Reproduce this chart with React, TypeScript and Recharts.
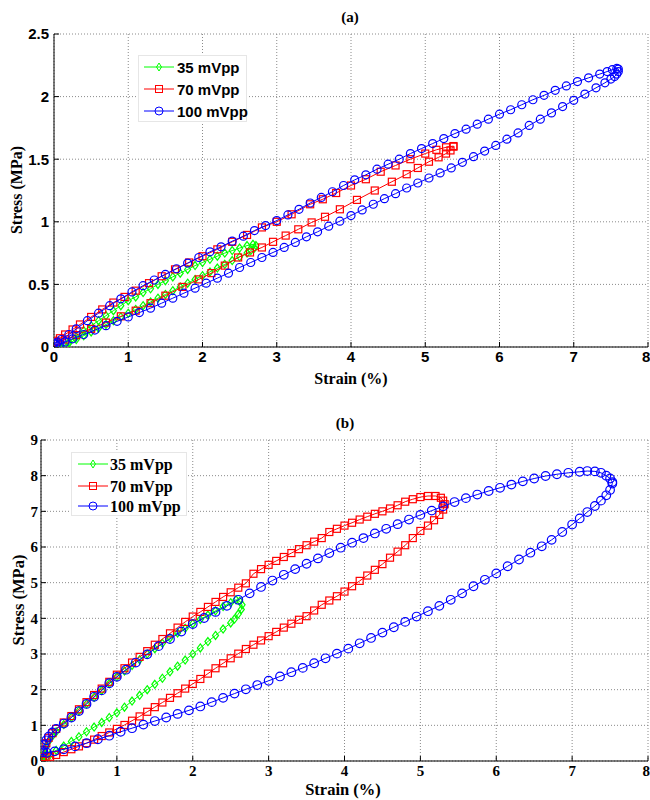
import React from 'react';
import { ScatterChart, Scatter, XAxis, YAxis, CartesianGrid, Label } from 'recharts';

// ---------- tick labels ----------
const strainTicks = [0, 1, 2, 3, 4, 5, 6, 7, 8];
const stressTicksA = [0, 0.5, 1, 1.5, 2, 2.5];
const stressTicksB = [0, 1, 2, 3, 4, 5, 6, 7, 8, 9];
const seriesNames = ['35 mVpp', '70 mVpp', '100 mVpp'];

// ---------- panel (a) : [strain %, stress MPa] ----------
const greenA_up: [number, number][] = [
  [0.05, -0.02], [0.1, -0.01], [0.2, 0.04], [0.3, 0.08], [0.4, 0.13], [0.5, 0.17], [0.6, 0.21], [0.7, 0.25],
  [0.8, 0.29], [0.9, 0.33], [1.0, 0.37], [1.1, 0.4], [1.2, 0.435], [1.3, 0.465], [1.4, 0.5], [1.5, 0.53],
  [1.6, 0.56], [1.7, 0.59], [1.8, 0.62], [1.9, 0.65], [2.0, 0.675], [2.1, 0.7], [2.2, 0.725], [2.3, 0.75],
  [2.4, 0.77], [2.5, 0.79], [2.6, 0.81], [2.68, 0.82], [2.72, 0.81],
];
const greenA_down: [number, number][] = [
  [2.7, 0.79], [2.65, 0.77], [2.6, 0.75], [2.5, 0.72], [2.4, 0.69], [2.3, 0.66], [2.2, 0.63], [2.1, 0.6],
  [2.0, 0.57], [1.9, 0.54], [1.8, 0.51], [1.7, 0.48], [1.6, 0.45], [1.5, 0.42], [1.4, 0.39], [1.3, 0.36],
  [1.2, 0.33], [1.1, 0.3], [1.0, 0.27], [0.9, 0.24], [0.8, 0.21], [0.7, 0.18], [0.6, 0.15], [0.5, 0.12],
  [0.4, 0.09], [0.3, 0.06], [0.2, 0.03], [0.1, 0.0], [0.05, -0.02],
];
const redA_up: [number, number][] = [
  [0.02, 0.05], [0.08, 0.07], [0.15, 0.1], [0.25, 0.14], [0.35, 0.18], [0.5, 0.24], [0.65, 0.3], [0.8, 0.355],
  [0.95, 0.4], [1.1, 0.45], [1.28, 0.51], [1.45, 0.565], [1.63, 0.62], [1.82, 0.675], [2.0, 0.725], [2.2, 0.78],
  [2.4, 0.84], [2.6, 0.895], [2.8, 0.955], [3.0, 1.0], [3.2, 1.06], [3.45, 1.14], [3.62, 1.18], [3.8, 1.23],
  [4.0, 1.29], [4.2, 1.34], [4.4, 1.4], [4.6, 1.45], [4.8, 1.5], [5.0, 1.545], [5.15, 1.575], [5.28, 1.595],
  [5.38, 1.605],
];
const redA_down: [number, number][] = [
  [5.38, 1.6], [5.34, 1.57], [5.28, 1.545], [5.18, 1.515], [5.05, 1.48], [4.9, 1.43], [4.75, 1.38], [4.55, 1.32],
  [4.32, 1.25], [4.08, 1.175], [3.85, 1.1], [3.65, 1.04], [3.47, 0.995], [3.29, 0.94], [3.12, 0.89], [2.95, 0.84],
  [2.8, 0.795], [2.64, 0.755], [2.48, 0.715], [2.3, 0.65], [2.12, 0.59], [1.95, 0.54], [1.73, 0.48], [1.5, 0.41],
  [1.3, 0.35], [1.1, 0.29], [0.9, 0.245], [0.7, 0.195], [0.5, 0.145], [0.3, 0.095], [0.15, 0.06], [0.03, 0.04],
];
const blueA_up: [number, number][] = [
  [0.0, 0.03], [0.05, 0.04], [0.1, 0.06], [0.2, 0.1], [0.3, 0.145], [0.45, 0.21], [0.6, 0.27], [0.75, 0.33],
  [0.9, 0.385], [1.05, 0.44], [1.2, 0.49], [1.35, 0.535], [1.5, 0.58], [1.65, 0.625], [1.8, 0.67], [1.95, 0.715],
  [2.1, 0.76], [2.25, 0.8], [2.4, 0.845], [2.55, 0.885], [2.7, 0.93], [2.85, 0.97], [3.0, 1.01], [3.15, 1.055],
  [3.3, 1.1], [3.45, 1.15], [3.6, 1.195], [3.75, 1.24], [3.9, 1.29], [4.05, 1.335], [4.2, 1.375], [4.35, 1.42],
  [4.5, 1.46], [4.65, 1.5], [4.8, 1.545], [4.95, 1.585], [5.1, 1.625], [5.25, 1.665], [5.4, 1.705], [5.55, 1.74],
  [5.7, 1.78], [5.85, 1.82], [6.0, 1.86], [6.15, 1.895], [6.3, 1.935], [6.45, 1.975], [6.6, 2.01], [6.75, 2.05],
  [6.9, 2.085], [7.05, 2.12], [7.2, 2.15], [7.35, 2.18], [7.45, 2.2], [7.52, 2.215], [7.58, 2.225], [7.6, 2.22],
];
const blueA_down: [number, number][] = [
  [7.6, 2.2], [7.58, 2.18], [7.55, 2.16], [7.5, 2.14], [7.42, 2.11], [7.3, 2.07], [7.15, 2.02], [7.0, 1.97],
  [6.85, 1.92], [6.7, 1.87], [6.55, 1.82], [6.4, 1.77], [6.25, 1.71], [6.1, 1.66], [5.95, 1.61], [5.8, 1.565],
  [5.65, 1.52], [5.5, 1.475], [5.35, 1.43], [5.2, 1.39], [5.05, 1.35], [4.9, 1.31], [4.75, 1.27], [4.6, 1.225],
  [4.45, 1.185], [4.3, 1.14], [4.15, 1.095], [4.0, 1.05], [3.85, 1.005], [3.7, 0.965], [3.55, 0.92], [3.4, 0.88],
  [3.25, 0.835], [3.1, 0.795], [2.95, 0.755], [2.8, 0.715], [2.65, 0.675], [2.5, 0.635], [2.35, 0.59], [2.2, 0.55],
  [2.05, 0.51], [1.9, 0.47], [1.75, 0.43], [1.6, 0.39], [1.45, 0.35], [1.3, 0.31], [1.15, 0.275], [1.0, 0.24],
  [0.85, 0.205], [0.7, 0.17], [0.55, 0.135], [0.4, 0.1], [0.25, 0.065], [0.15, 0.04], [0.08, 0.025], [0.03, 0.02],
];

// ---------- panel (b) : [strain %, stress MPa] ----------
const greenB_up: [number, number][] = [
  [0.02, 0.0], [0.04, 0.2], [0.07, 0.4], [0.1, 0.55], [0.15, 0.7], [0.2, 0.82], [0.3, 1.02], [0.4, 1.22],
  [0.5, 1.41], [0.6, 1.6], [0.7, 1.79], [0.8, 1.98], [0.9, 2.17], [1.0, 2.36], [1.1, 2.52], [1.2, 2.68],
  [1.3, 2.84], [1.4, 3.0], [1.5, 3.15], [1.6, 3.3], [1.7, 3.45], [1.8, 3.59], [1.9, 3.72], [2.0, 3.85],
  [2.1, 3.97], [2.2, 4.09], [2.3, 4.21], [2.4, 4.33], [2.5, 4.44], [2.57, 4.52], [2.62, 4.48], [2.65, 4.38],
];
const greenB_down: [number, number][] = [
  [2.64, 4.25], [2.6, 4.12], [2.55, 3.98], [2.5, 3.87], [2.4, 3.7], [2.3, 3.52], [2.2, 3.35], [2.1, 3.17],
  [2.0, 3.0], [1.9, 2.83], [1.8, 2.66], [1.7, 2.5], [1.6, 2.32], [1.5, 2.15], [1.4, 2.0], [1.3, 1.84],
  [1.2, 1.68], [1.1, 1.51], [1.0, 1.35], [0.9, 1.22], [0.8, 1.08], [0.7, 0.95], [0.6, 0.82], [0.5, 0.68],
  [0.4, 0.55], [0.3, 0.42], [0.2, 0.3], [0.12, 0.18], [0.06, 0.07], [0.03, 0.0],
];
const redB_up: [number, number][] = [
  [0.02, 0.1], [0.04, 0.3], [0.07, 0.5], [0.1, 0.65], [0.15, 0.78], [0.2, 0.9], [0.3, 1.08], [0.4, 1.26],
  [0.5, 1.45], [0.6, 1.65], [0.7, 1.85], [0.8, 2.03], [0.9, 2.22], [1.0, 2.42], [1.1, 2.6], [1.2, 2.76],
  [1.3, 2.92], [1.4, 3.08], [1.5, 3.26], [1.6, 3.42], [1.7, 3.58], [1.8, 3.74], [1.9, 3.9], [2.0, 4.05],
  [2.1, 4.18], [2.2, 4.32], [2.3, 4.46], [2.4, 4.6], [2.5, 4.73], [2.6, 4.86], [2.7, 4.98], [2.8, 5.25],
  [2.9, 5.38], [3.0, 5.5], [3.1, 5.61], [3.2, 5.72], [3.3, 5.83], [3.4, 5.94], [3.5, 6.05], [3.6, 6.15],
  [3.7, 6.25], [3.8, 6.42], [3.9, 6.51], [4.0, 6.6], [4.1, 6.68], [4.2, 6.77], [4.3, 6.85], [4.4, 6.93],
  [4.5, 7.0], [4.6, 7.08], [4.7, 7.17], [4.8, 7.27], [4.9, 7.34], [5.0, 7.4], [5.1, 7.43], [5.2, 7.43],
  [5.27, 7.38], [5.3, 7.3],
];
const redB_down: [number, number][] = [
  [5.32, 7.2], [5.3, 7.05], [5.25, 6.9], [5.18, 6.75], [5.1, 6.6], [5.0, 6.45], [4.9, 6.25], [4.8, 6.05],
  [4.7, 5.87], [4.6, 5.7], [4.5, 5.52], [4.4, 5.36], [4.3, 5.2], [4.2, 5.05], [4.1, 4.9], [4.0, 4.75],
  [3.9, 4.62], [3.8, 4.5], [3.7, 4.38], [3.6, 4.22], [3.5, 4.06], [3.4, 3.96], [3.3, 3.85], [3.2, 3.74],
  [3.1, 3.62], [3.0, 3.5], [2.9, 3.38], [2.8, 3.26], [2.7, 3.14], [2.6, 3.01], [2.5, 2.88], [2.4, 2.74],
  [2.3, 2.6], [2.2, 2.45], [2.1, 2.3], [2.0, 2.16], [1.9, 2.03], [1.8, 1.9], [1.7, 1.77], [1.6, 1.64],
  [1.5, 1.51], [1.4, 1.38], [1.3, 1.25], [1.2, 1.13], [1.1, 1.01], [1.0, 0.9], [0.9, 0.8], [0.8, 0.7],
  [0.7, 0.6], [0.6, 0.5], [0.5, 0.41], [0.4, 0.33], [0.3, 0.25], [0.2, 0.17], [0.12, 0.12], [0.06, 0.1],
  [0.02, 0.1],
];
const blueB_up: [number, number][] = [
  [0.02, 0.3], [0.04, 0.45], [0.07, 0.58], [0.1, 0.68], [0.15, 0.8], [0.2, 0.9], [0.3, 1.05], [0.4, 1.22],
  [0.5, 1.4], [0.6, 1.6], [0.7, 1.8], [0.8, 1.98], [0.9, 2.18], [1.0, 2.36], [1.12, 2.56], [1.25, 2.76],
  [1.4, 2.99], [1.55, 3.22], [1.7, 3.42], [1.85, 3.63], [2.0, 3.84], [2.15, 4.01], [2.3, 4.18], [2.45, 4.35],
  [2.6, 4.52], [2.75, 4.7], [2.9, 4.88], [3.05, 5.06], [3.2, 5.22], [3.35, 5.38], [3.5, 5.53], [3.65, 5.68],
  [3.8, 5.83], [3.95, 5.98], [4.1, 6.12], [4.25, 6.25], [4.4, 6.38], [4.55, 6.51], [4.7, 6.64], [4.85, 6.77],
  [5.0, 6.9], [5.15, 7.02], [5.3, 7.14], [5.45, 7.26], [5.6, 7.37], [5.75, 7.47], [5.9, 7.57], [6.05, 7.66],
  [6.2, 7.75], [6.35, 7.84], [6.5, 7.92], [6.65, 7.99], [6.8, 8.04], [6.95, 8.08], [7.1, 8.11], [7.2, 8.13],
  [7.3, 8.12], [7.38, 8.08], [7.45, 8.0], [7.5, 7.92], [7.53, 7.82],
];
const blueB_down: [number, number][] = [
  [7.53, 7.78], [7.5, 7.6], [7.45, 7.45], [7.38, 7.3], [7.3, 7.15], [7.2, 6.98], [7.1, 6.8], [7.0, 6.63],
  [6.87, 6.42], [6.73, 6.2], [6.6, 6.02], [6.45, 5.84], [6.3, 5.65], [6.15, 5.46], [6.0, 5.26], [5.85, 5.08],
  [5.7, 4.9], [5.55, 4.7], [5.4, 4.52], [5.25, 4.35], [5.1, 4.2], [4.95, 4.05], [4.8, 3.9], [4.65, 3.75],
  [4.5, 3.6], [4.35, 3.45], [4.2, 3.3], [4.05, 3.15], [3.9, 3.01], [3.75, 2.88], [3.6, 2.74], [3.45, 2.61],
  [3.3, 2.49], [3.15, 2.37], [3.0, 2.25], [2.85, 2.13], [2.7, 2.01], [2.55, 1.89], [2.4, 1.77], [2.25, 1.65],
  [2.1, 1.53], [1.95, 1.42], [1.8, 1.32], [1.65, 1.22], [1.5, 1.12], [1.35, 1.02], [1.2, 0.92], [1.05, 0.82],
  [0.9, 0.71], [0.75, 0.61], [0.6, 0.5], [0.45, 0.41], [0.3, 0.33], [0.18, 0.27], [0.08, 0.23], [0.03, 0.25],
];

const toPts = (...branches: [number, number][][]) =>
  branches.flat().map(([x, y]) => ({ x, y }));

const GREEN = '#00ff00';
const RED = '#ff0000';
const BLUE = '#0000ff';
const MW = 1.2;

const Diamond = (color: string, w: number, h: number) => (p: any) =>
  p.cx == null ? <g /> : (
    <path
      d={`M${p.cx},${p.cy - h}L${p.cx + w},${p.cy}L${p.cx},${p.cy + h}L${p.cx - w},${p.cy}Z`}
      fill="none"
      stroke={color}
      strokeWidth={MW}
    />
  );
const Square = (color: string, s: number) => (p: any) =>
  p.cx == null ? <g /> : (
    <rect x={p.cx - s} y={p.cy - s} width={2 * s} height={2 * s} fill="none" stroke={color} strokeWidth={MW} />
  );
const Circle = (color: string, r: number) => (p: any) =>
  p.cx == null ? <g /> : <circle cx={p.cx} cy={p.cy} r={r} fill="none" stroke={color} strokeWidth={MW} />;

type PanelProps = {
  top: number;
  yTicks: number[];
  yMax: number;
  leftW: number;
  margin: { top: number; right: number; bottom: number; left: number };
  series: { data: { x: number; y: number }[]; color: string; shape: any }[];
  tickFont: string;
  tickSize: number;
  yTickMargin: number;
  xTickMargin: number;
  yLabelX: number;
  yLabelY: number;
  xLabelX: number;
  xLabelY: number;
  labelSize: number;
};

const Panel = (pp: PanelProps) => {
  const tickStyle = { fontFamily: pp.tickFont, fontWeight: 700, fontSize: pp.tickSize, fill: '#000' };
  const labelStyle = { fontFamily: '"Liberation Serif", "Times New Roman", serif', fontWeight: 700, fontSize: pp.labelSize, fill: '#000' };
  return (
    <div style={{ position: 'absolute', left: 0, top: pp.top }}>
      <ScatterChart width={650} height={400} margin={pp.margin}>
        <CartesianGrid stroke="#8a8a8a" strokeDasharray="1 2" />
        <XAxis
          type="number"
          dataKey="x"
          domain={[0, 8]}
          ticks={strainTicks}
          allowDataOverflow
          height={30}
          tickSize={-5}
          tickMargin={pp.xTickMargin}
          tick={tickStyle}
          axisLine={{ stroke: '#000' }}
          tickLine={{ stroke: '#000' }}
        >
          <Label
            content={() => (
              <text x={pp.xLabelX} y={pp.xLabelY} textAnchor="middle" dominantBaseline="central" style={labelStyle}>
                Strain (%)
              </text>
            )}
          />
        </XAxis>
        <XAxis
          xAxisId="top"
          orientation="top"
          type="number"
          domain={[0, 8]}
          ticks={strainTicks}
          allowDataOverflow
          height={0}
          tickSize={-5}
          tick={false}
          axisLine={{ stroke: '#000' }}
          tickLine={{ stroke: '#000' }}
        />
        <YAxis
          type="number"
          dataKey="y"
          domain={[0, pp.yMax]}
          ticks={pp.yTicks}
          allowDataOverflow
          width={pp.leftW}
          tickSize={-5}
          tickMargin={pp.yTickMargin}
          tick={tickStyle}
          axisLine={{ stroke: '#000' }}
          tickLine={{ stroke: '#000' }}
        >
          <Label
            content={() => (
              <text
                x={pp.yLabelX}
                y={pp.yLabelY}
                textAnchor="middle"
                dominantBaseline="central"
                transform={`rotate(-90, ${pp.yLabelX}, ${pp.yLabelY})`}
                style={labelStyle}
              >
                Stress (MPa)
              </text>
            )}
          />
        </YAxis>
        <YAxis
          yAxisId="right"
          orientation="right"
          type="number"
          domain={[0, pp.yMax]}
          ticks={pp.yTicks}
          allowDataOverflow
          width={0}
          tickSize={-5}
          tick={false}
          axisLine={{ stroke: '#000' }}
          tickLine={{ stroke: '#000' }}
        />
        {pp.series.map((s, i) => (
          <Scatter
            key={i}
            data={s.data}
            fill="none"
            line={{ stroke: s.color, strokeWidth: 1 }}
            lineType="joint"
            shape={s.shape}
            isAnimationActive={false}
          />
        ))}
      </ScatterChart>
    </div>
  );
};

const LegendBox = ({
  left, top, width, height, rowYs, font, size, lineX1, lineX2, textX, shapes,
}: {
  left: number; top: number; width: number; height: number; rowYs: number[]; font: string; size: number;
  lineX1: number; lineX2: number; textX: number; shapes: ((x: number, y: number) => React.ReactNode)[];
}) => (
  <div
    style={{
      position: 'absolute', left, top, width, height, background: '#fff',
      border: '1px solid #e6e6e6', boxSizing: 'border-box',
    }}
  >
    <svg width={width} height={height} style={{ position: 'absolute', left: -1, top: -1, overflow: 'visible' }}>
      {seriesNames.map((name, i) => {
        const c = [GREEN, RED, BLUE][i];
        const y = rowYs[i];
        const mx = (lineX1 + lineX2) / 2;
        return (
          <g key={name}>
            <line x1={lineX1} x2={lineX2} y1={y} y2={y} stroke={c} strokeWidth={1} />
            {shapes[i](mx, y)}
            <text
              x={textX}
              y={y}
              dominantBaseline="central"
              style={{ fontFamily: font, fontWeight: 700, fontSize: size, fill: '#000' }}
            >
              {name}
            </text>
          </g>
        );
      })}
    </svg>
  </div>
);

const legendShapes = [
  (x: number, y: number) => (
    <path d={`M${x},${y - 4}L${x + 2.5},${y}L${x},${y + 4}L${x - 2.5},${y}Z`} fill="none" stroke={GREEN} />
  ),
  (x: number, y: number) => <rect x={x - 3.5} y={y - 3.5} width={7} height={7} fill="none" stroke={RED} />,
  (x: number, y: number) => <circle cx={x} cy={y} r={4} fill="none" stroke={BLUE} />,
];

const SANS = '"Liberation Sans", Arial, Helvetica, sans-serif';
const SERIF = '"Liberation Serif", "Times New Roman", serif';

export default function App() {
  const seriesA = [
    { data: toPts(greenA_up, greenA_down), color: GREEN, shape: Diamond(GREEN, 3, 4) },
    { data: toPts(redA_up, redA_down), color: RED, shape: Square(RED, 3.5) },
    { data: toPts(blueA_up, blueA_down), color: BLUE, shape: Circle(BLUE, 4) },
  ];
  const seriesB = [
    { data: toPts(greenB_up, greenB_down), color: GREEN, shape: Diamond(GREEN, 3, 4) },
    { data: toPts(redB_up, redB_down), color: RED, shape: Square(RED, 3.5) },
    { data: toPts(blueB_up, blueB_down), color: BLUE, shape: Circle(BLUE, 4.3) },
  ];
  return (
    <div style={{ position: 'absolute', left: 0, top: 0, width: 650, height: 800, background: '#fff', overflow: 'hidden' }}>
      <Panel
        top={0}
        yTicks={stressTicksA}
        yMax={2.5}
        leftW={54}
        margin={{ top: 34, right: 2, bottom: 23, left: 0 }}
        series={seriesA}
        tickFont={SANS}
        tickSize={15}
        yTickMargin={10}
        xTickMargin={9}
        yLabelX={16}
        yLabelY={190}
        xLabelX={351}
        xLabelY={378}
        labelSize={16}
      />
      <Panel
        top={400}
        yTicks={stressTicksB}
        yMax={9}
        leftW={41}
        margin={{ top: 40, right: 2, bottom: 9, left: 0 }}
        series={seriesB}
        tickFont={SERIF}
        tickSize={15}
        yTickMargin={8}
        xTickMargin={9}
        yLabelX={18}
        yLabelY={200}
        xLabelX={343}
        xLabelY={389}
        labelSize={16.5}
      />
      <div style={{ position: 'absolute', left: 330, top: 8, width: 40, textAlign: 'center', fontFamily: SERIF, fontWeight: 700, fontSize: 15, lineHeight: '18px' }}>
        (a)
      </div>
      <div style={{ position: 'absolute', left: 325, top: 414, width: 40, textAlign: 'center', fontFamily: SERIF, fontWeight: 700, fontSize: 15, lineHeight: '18px' }}>
        (b)
      </div>
      <LegendBox
        left={138} top={55} width={109} height={67}
        rowYs={[12, 34, 56]} font={SANS} size={15}
        lineX1={6} lineX2={36} textX={39} shapes={legendShapes}
      />
      <LegendBox
        left={71} top={452} width={116} height={64}
        rowYs={[12, 34, 54]} font={SERIF} size={16}
        lineX1={7} lineX2={37} textX={39} shapes={legendShapes}
      />
    </div>
  );
}
